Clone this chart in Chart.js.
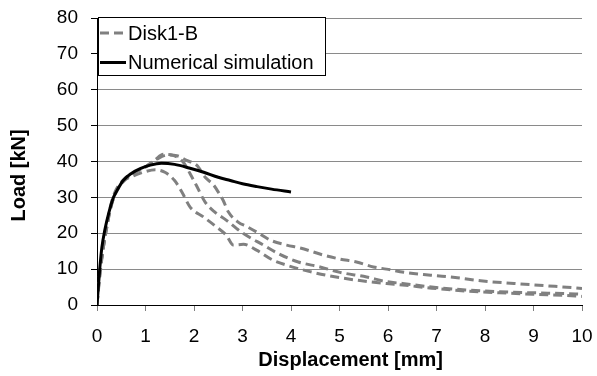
<!DOCTYPE html>
<html><head><meta charset="utf-8">
<script src="https://cdn.jsdelivr.net/npm/chart.js@4"></script>
<style>html,body{margin:0;padding:0;background:#fff;}#wrap{width:597px;height:376px;position:relative;}</style>
</head><body><div id="wrap"><canvas id="c" width="597" height="376"></canvas></div>
<script>
// ---- data ----
const xTickValues = [0,1,2,3,4,5,6,7,8,9,10];
const yTickValues = [0,10,20,30,40,50,60,70,80];
const xTitle = "Displacement [mm]";
const yTitle = "Load [kN]";
const testLabel = "Disk1-B";
const simLabel = "Numerical simulation";

const testAx = [0,0.05,0.13,0.2,0.27,0.37,0.54,0.75,1.0,1.2,1.4,1.6,1.75,1.92,2.2,2.47,2.67,2.81,3.02,3.29,3.63,3.91,4.39,4.8,5.42,5.97,6.3,6.9,7.6,8.3,9.0,9.6,10];
const testAy = [0,8,16,21.5,27,31.5,34.5,36,37.2,37.7,37,34.7,31.5,27.3,24.5,21.7,19.4,16.7,16.9,15.3,12.5,11.1,9.3,8.1,6.8,6.0,5.6,4.7,3.9,3.4,3.0,2.7,2.4];

const testBx = [0,0.06,0.14,0.22,0.3,0.4,0.55,0.75,1.0,1.2,1.37,1.57,1.78,1.92,2.05,2.23,2.43,2.67,2.88,3.02,3.43,3.77,4.15,4.6,5.01,5.56,5.97,6.3,6.9,7.6,8.3,9.0,9.6,10];
const testBy = [0,9,17,23,28,32,35,36.8,38.5,40.5,42,41.7,39.8,36.6,33.3,28.7,25.9,23.6,21.3,19.9,16.7,14.1,12.0,10.6,9.1,7.8,6.5,6.0,5.0,4.2,3.7,3.4,3.2,3.0];

const testCx = [0,0.05,0.12,0.2,0.28,0.38,0.55,0.8,1.0,1.2,1.45,1.65,1.85,2.06,2.23,2.4,2.5,2.6,2.71,2.91,3.1,3.36,3.57,3.91,4.19,4.67,5.01,5.35,5.7,5.97,6.33,6.88,7.43,7.91,8.6,9.22,9.84,10];
const testCy = [0,7,15,22,27,31,34.5,37,38.5,40.3,41.8,41.6,40.3,38.9,35.6,33.5,31.5,29.2,25.9,23.1,21.8,19.8,18.1,16.7,15.9,13.9,12.8,12.0,10.6,10.0,9.1,8.3,7.6,6.75,6.0,5.4,4.8,4.6];

const simX = [0,0.03,0.06,0.1,0.16,0.25,0.34,0.45,0.54,0.7,0.89,1.1,1.33,1.6,1.9,2.2,2.5,2.75,3.0,3.3,3.6,4.0];
const simY = [0,5.5,10.6,16,20.8,26,30,32.8,34.7,36.6,38,39,39.5,39.2,38.2,37,35.6,34.7,33.8,33,32.3,31.5];

// ---- build ----
const pts = (xs, ys) => xs.map((x, i) => ({x: x, y: ys[i]}));
const FONT = "'Liberation Sans', Arial, Helvetica, sans-serif";
const dashStyle = {borderColor:'#808080', borderWidth:3, borderDash:[9,5], pointRadius:0, fill:false, cubicInterpolationMode:'monotone', order:1};
const datasets = [
  Object.assign({label:testLabel, data:pts(testAx,testAy)}, dashStyle),
  Object.assign({label:testLabel, data:pts(testBx,testBy)}, dashStyle),
  Object.assign({label:testLabel, data:pts(testCx,testCy)}, dashStyle),
  {label:simLabel, data:pts(simX,simY), borderColor:'#000', borderWidth:3, pointRadius:0, fill:false, cubicInterpolationMode:'monotone', order:0}
];

const boxLegend = {
  id:'boxLegend',
  afterDraw(chart){
    const ctx = chart.ctx;
    const seen = [];
    chart.data.datasets.forEach(d => { if (!seen.find(s => s.label === d.label)) seen.push(d); });
    const bx = 98, by = 17, bw = 227, bh = 58;
    ctx.save();
    ctx.fillStyle = '#fff';
    ctx.fillRect(bx, by, bw, bh);
    ctx.strokeStyle = '#000';
    ctx.lineWidth = 1;
    ctx.strokeRect(bx + 0.5, by + 0.5, bw, bh);
    ctx.font = "20px " + FONT;
    ctx.textBaseline = 'middle';
    ctx.textAlign = 'left';
    seen.forEach((d, i) => {
      const y = 33 + i * 29.5;
      ctx.beginPath();
      ctx.strokeStyle = d.borderColor;
      ctx.lineWidth = d.borderWidth;
      ctx.setLineDash(d.borderDash || []);
      ctx.moveTo(100, y);
      ctx.lineTo(126, y);
      ctx.stroke();
      ctx.setLineDash([]);
      ctx.fillStyle = '#000';
      ctx.fillText(d.label, 128, y + 1);
    });
    ctx.restore();
  }
};

new Chart(document.getElementById('c'), {
  type: 'line',
  data: {datasets: datasets},
  options: {
    responsive: false,
    devicePixelRatio: 1,
    animation: false,
    layout: {padding: {top: 18, right: 15, left: 0, bottom: 0}},
    plugins: {legend: {display: false}, tooltip: {enabled: false}},
    scales: {
      x: {
        type: 'linear', min: 0, max: 10,
        afterBuildTicks(s){ s.ticks = xTickValues.map(v => ({value: v})); },
        afterFit(s){ s.height = 71; s.paddingLeft = 0; s.paddingRight = 0; },
        ticks: {font: {size: 19, family: FONT}, color: '#000', padding: 14, maxRotation: 0},
        grid: {drawOnChartArea: false, tickLength: 6, tickColor: '#808080'},
        border: {color: '#000', width: 1},
        title: {display: true, text: '    ' + xTitle, color: '#000', font: {size: 20, weight: 'bold', family: FONT}, padding: {top: 0, bottom: 4}}
      },
      y: {
        min: 0, max: 80,
        afterBuildTicks(s){ s.ticks = yTickValues.map(v => ({value: v})); },
        afterFit(s){ s.width = 97; s.paddingTop = 0; s.paddingBottom = 0; },
        ticks: {font: {size: 19, family: FONT}, color: '#000', padding: 13},
        grid: {color: '#8a8a8a', lineWidth: 1, tickLength: 6, tickColor: '#000'},
        border: {color: '#000', width: 1},
        title: {display: true, text: yTitle + '     ', color: '#000', font: {size: 20, weight: 'bold', family: FONT}, padding: {top: 7, bottom: 0}}
      }
    }
  },
  plugins: [boxLegend]
});
</script>
</body></html>
